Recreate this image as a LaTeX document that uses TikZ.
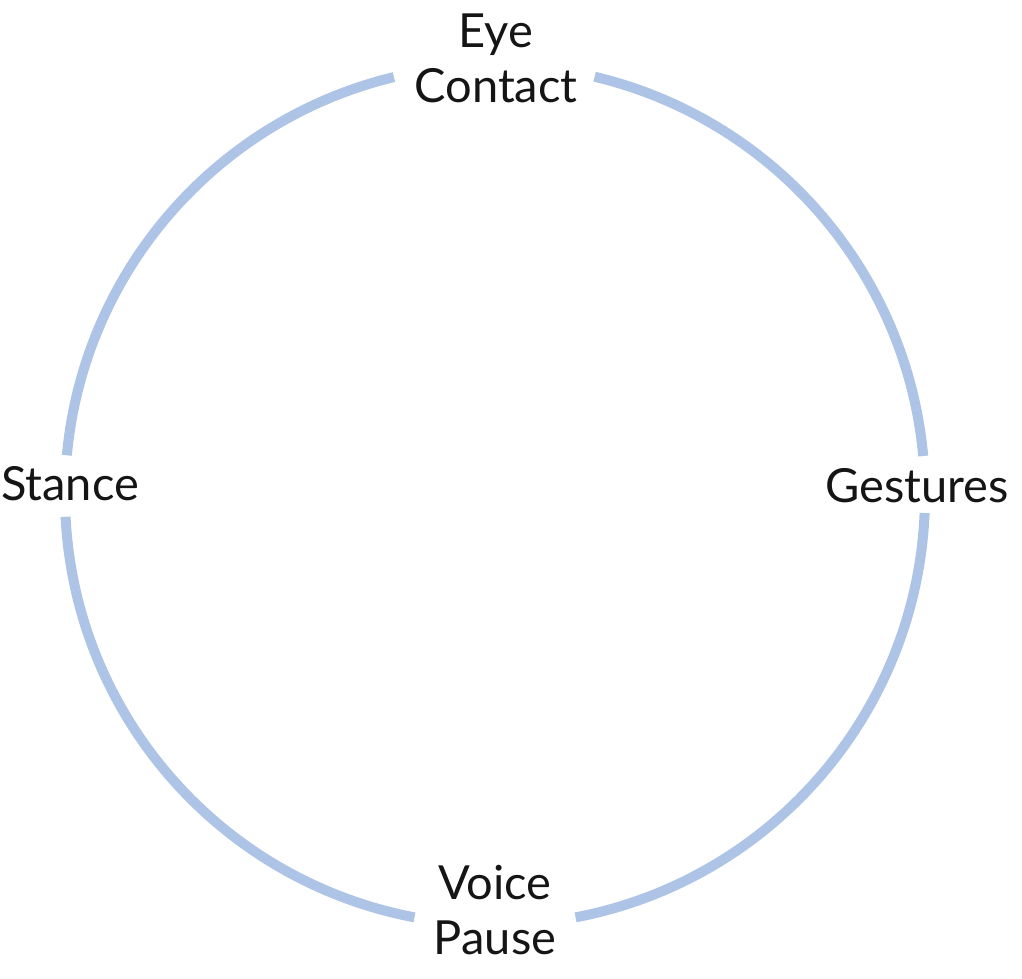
\documentclass[tikz,border=0pt]{standalone}
\usepackage{fontspec}
\setmainfont{Lato}
\definecolor{ringblue}{HTML}{AEC4E6}
\definecolor{labeltext}{HTML}{151515}
\begin{document}
\begin{tikzpicture}[x=1pt,y=1pt,
  ring/.style={draw=ringblue,line width=10pt},
  label/.style={text=labeltext,align=center,inner sep=0pt,
    font=\fontsize{47}{55}\selectfont}]
\useasboundingbox (0,0) rectangle (1022,978);
\coordinate (c) at (495,483);
\node[label] (eye) at (496,920) {Eye\\Contact};
\node[label] (ges) at (917,492) {Gestures};
\node[label] (voice) at (495,68) {Voice\\Pause};
\node[label] (stance) at (70,494) {Stance};
% ring segments between the labels
\draw[ring] ([shift={(5.2:430)}]c) arc[start angle=5.2,end angle=76.6,radius=430];
\draw[ring] ([shift={(103.6:430)}]c) arc[start angle=103.6,end angle=174.7,radius=430];
\draw[ring] ([shift={(182.9:430)}]c) arc[start angle=182.9,end angle=259.2,radius=430];
\draw[ring] ([shift={(280.8:430)}]c) arc[start angle=280.8,end angle=357.6,radius=430];
\end{tikzpicture}
\end{document}
